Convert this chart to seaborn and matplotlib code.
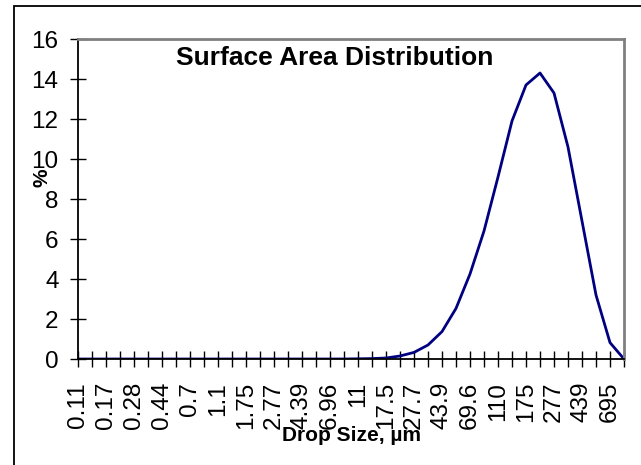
import matplotlib
matplotlib.use("Agg")
import matplotlib.pyplot as plt
from matplotlib.patches import Rectangle
import seaborn as sns
import pandas as pd

# drop size classes (um) and surface area share (%)
sizes = ["0.11", "0.14", "0.17", "0.22", "0.28", "0.35", "0.44", "0.55", "0.7", "0.88",
         "1.1", "1.39", "1.75", "2.2", "2.77", "3.49", "4.39", "5.53", "6.96", "8.77",
         "11", "13.9", "17.5", "22", "27.7", "34.9", "43.9", "55.3", "69.6", "87.7",
         "110", "139", "175", "220", "277", "349", "439", "553", "695", "877"]
pct = [0.0, 0.0, 0.0, 0.0, 0.0, 0.0, 0.0, 0.0, 0.0, 0.0,
       0.0, 0.0, 0.0, 0.0, 0.0, 0.0, 0.0, 0.0, 0.0, 0.0,
       0.01, 0.02, 0.05, 0.15, 0.33, 0.7, 1.37, 2.53, 4.25, 6.4,
       9.1, 11.9, 13.7, 14.3, 13.3, 10.6, 6.9, 3.2, 0.82, 0.0]
yticks = [0, 2, 4, 6, 8, 10, 12, 14, 16]

sns.set_style("white")
plt.rcParams["font.family"] = ["Liberation Sans", "DejaVu Sans"]
plt.rcParams.update({"text.color": "black", "axes.labelcolor": "black",
                     "xtick.color": "black", "ytick.color": "black"})

df = pd.DataFrame({"size": sizes, "pct": pct})

fig = plt.figure(figsize=(6.41, 4.65), dpi=100)
ax = fig.add_axes([78 / 641, 1 - 359 / 465, 546 / 641, 320 / 465])

sns.lineplot(data=df, x="size", y="pct", color="#000080", linewidth=2, ax=ax, sort=False)

ax.set_xlim(0, len(sizes) - 1)
ax.set_ylim(0, 16)
ax.set_yticks(yticks)
ax.set_yticklabels([str(v) for v in yticks], fontsize=17.5)
ax.set_xticks(range(len(sizes)))
ax.set_xticklabels([s if i % 2 == 0 else "" for i, s in enumerate(sizes)],
                   rotation=90, fontsize=17.5)
ax.tick_params(axis="both", direction="inout", length=11, width=1, color="black",
               labelcolor="black", pad=8.5, bottom=True, left=True)
ax.tick_params(axis="x", pad=11)

for side in ["left", "bottom"]:
    ax.spines[side].set_color("black")
    ax.spines[side].set_linewidth(1.3)
for side in ["top", "right"]:
    ax.spines[side].set_color("#808080")
    ax.spines[side].set_linewidth(2)

ax.set_xlabel("Drop Size, µm", fontsize=15, fontweight="bold", color="black")
ax.xaxis.set_label_coords(0.5, -(435 - 359) / 320)
ax.xaxis.label.set_va("center")
ax.set_ylabel("%", fontsize=15, fontweight="bold", color="black")
ax.yaxis.set_label_coords(-(78 - 42) / 546, (359 - 178) / 320)
ax.yaxis.label.set_va("center")

ax.text((335 - 78) / 546, (359 - 65) / 320, "Surface Area Distribution",
        transform=ax.transAxes, ha="center", va="baseline",
        fontsize=19, fontweight="bold", color="black")

fig.add_artist(Rectangle((14 / 641, -0.1), 2, 1.1 - 6 / 465, transform=fig.transFigure,
                         fill=False, edgecolor="black", linewidth=1.3))

fig.savefig("out.png", dpi=100)
